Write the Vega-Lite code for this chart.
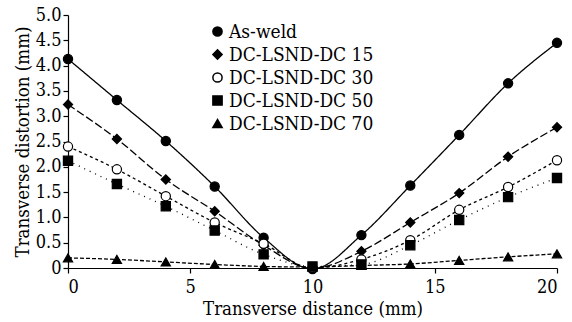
{
  "$schema": "https://vega.github.io/schema/vega-lite/v6.json",
  "width": 489,
  "height": 253,
  "autosize": {"type": "none"},
  "padding": {"left": 68, "top": 15, "right": 15, "bottom": 54},
  "background": "white",
  "config": {
    "view": {"stroke": null},
    "font": "DejaVu Serif Condensed, DejaVu Serif",
    "axis": {"grid": false, "domainColor": "black", "tickColor": "black", "labelColor": "black", "titleColor": "black", "labelFont": "DejaVu Serif Condensed, DejaVu Serif", "titleFont": "DejaVu Serif Condensed, DejaVu Serif", "labelFontSize": 18, "titleFontSize": 18.5, "titleFontWeight": "normal", "domainWidth": 1.2, "tickWidth": 1.2, "tickSize": 5},
    "legend": {"labelFont": "DejaVu Serif Condensed, DejaVu Serif"}
  },
  "data": {
    "values": [
      {"series": "As-weld", "x": 0, "y": 4.13}, {"series": "As-weld", "x": 2, "y": 3.32}, {"series": "As-weld", "x": 4, "y": 2.51}, {"series": "As-weld", "x": 6, "y": 1.61}, {"series": "As-weld", "x": 8, "y": 0.6}, {"series": "As-weld", "x": 10, "y": -0.02}, {"series": "As-weld", "x": 12, "y": 0.65}, {"series": "As-weld", "x": 14, "y": 1.63}, {"series": "As-weld", "x": 16, "y": 2.63}, {"series": "As-weld", "x": 18, "y": 3.65}, {"series": "As-weld", "x": 20, "y": 4.45},
      {"series": "DC-LSND-DC 15", "x": 0, "y": 3.23}, {"series": "DC-LSND-DC 15", "x": 2, "y": 2.55}, {"series": "DC-LSND-DC 15", "x": 4, "y": 1.75}, {"series": "DC-LSND-DC 15", "x": 6, "y": 1.12}, {"series": "DC-LSND-DC 15", "x": 8, "y": 0.45}, {"series": "DC-LSND-DC 15", "x": 10, "y": -0.01}, {"series": "DC-LSND-DC 15", "x": 12, "y": 0.33}, {"series": "DC-LSND-DC 15", "x": 14, "y": 0.9}, {"series": "DC-LSND-DC 15", "x": 16, "y": 1.48}, {"series": "DC-LSND-DC 15", "x": 18, "y": 2.2}, {"series": "DC-LSND-DC 15", "x": 20, "y": 2.78},
      {"series": "DC-LSND-DC 30", "x": 0, "y": 2.4}, {"series": "DC-LSND-DC 30", "x": 2, "y": 1.95}, {"series": "DC-LSND-DC 30", "x": 4, "y": 1.42}, {"series": "DC-LSND-DC 30", "x": 6, "y": 0.9}, {"series": "DC-LSND-DC 30", "x": 8, "y": 0.48}, {"series": "DC-LSND-DC 30", "x": 10, "y": 0.0}, {"series": "DC-LSND-DC 30", "x": 12, "y": 0.17}, {"series": "DC-LSND-DC 30", "x": 14, "y": 0.55}, {"series": "DC-LSND-DC 30", "x": 16, "y": 1.15}, {"series": "DC-LSND-DC 30", "x": 18, "y": 1.6}, {"series": "DC-LSND-DC 30", "x": 20, "y": 2.13},
      {"series": "DC-LSND-DC 50", "x": 0, "y": 2.12}, {"series": "DC-LSND-DC 50", "x": 2, "y": 1.66}, {"series": "DC-LSND-DC 50", "x": 4, "y": 1.22}, {"series": "DC-LSND-DC 50", "x": 6, "y": 0.74}, {"series": "DC-LSND-DC 50", "x": 8, "y": 0.27}, {"series": "DC-LSND-DC 50", "x": 10, "y": 0.03}, {"series": "DC-LSND-DC 50", "x": 12, "y": 0.07}, {"series": "DC-LSND-DC 50", "x": 14, "y": 0.45}, {"series": "DC-LSND-DC 50", "x": 16, "y": 0.95}, {"series": "DC-LSND-DC 50", "x": 18, "y": 1.4}, {"series": "DC-LSND-DC 50", "x": 20, "y": 1.78},
      {"series": "DC-LSND-DC 70", "x": 0, "y": 0.2}, {"series": "DC-LSND-DC 70", "x": 2, "y": 0.17}, {"series": "DC-LSND-DC 70", "x": 4, "y": 0.12}, {"series": "DC-LSND-DC 70", "x": 6, "y": 0.07}, {"series": "DC-LSND-DC 70", "x": 8, "y": 0.03}, {"series": "DC-LSND-DC 70", "x": 10, "y": 0.02}, {"series": "DC-LSND-DC 70", "x": 12, "y": 0.05}, {"series": "DC-LSND-DC 70", "x": 14, "y": 0.08}, {"series": "DC-LSND-DC 70", "x": 16, "y": 0.15}, {"series": "DC-LSND-DC 70", "x": 18, "y": 0.22}, {"series": "DC-LSND-DC 70", "x": 20, "y": 0.28}
    ]
  },
  "encoding": {
    "x": {"field": "x", "type": "quantitative", "scale": {"domain": [0, 20], "nice": false}, "axis": {"values": [0, 5, 10, 15, 20], "title": "Transverse distance (mm)", "labelPadding": 5, "titlePadding": 3}},
    "y": {"field": "y", "type": "quantitative", "scale": {"domain": [0, 5], "nice": false}, "axis": {"values": [0, 0.5, 1, 1.5, 2, 2.5, 3, 3.5, 4, 4.5, 5], "labelExpr": "datum.value == 0 ? '0' : format(datum.value, '.1f')", "title": "Transverse distortion (mm)", "labelPadding": 2, "titlePadding": 3}}
  },
  "layer": [
    {
      "mark": {"type": "line", "interpolate": "monotone", "color": "black", "strokeWidth": 1.3, "clip": false},
      "encoding": {
        "detail": {"field": "series"},
        "strokeDash": {"field": "series", "type": "nominal", "legend": null, "scale": {"domain": ["As-weld", "DC-LSND-DC 15", "DC-LSND-DC 30", "DC-LSND-DC 50", "DC-LSND-DC 70"], "range": [[1, 0], [8, 3], [3, 3], [1, 5], [4, 2]]}}
      }
    },
    {
      "mark": {"type": "point", "filled": true, "stroke": "black", "strokeWidth": 1.2, "opacity": 1, "size": 85, "clip": false},
      "encoding": {
        "shape": {"field": "series", "type": "nominal", "title": null, "scale": {"domain": ["As-weld", "DC-LSND-DC 15", "DC-LSND-DC 30", "DC-LSND-DC 50", "DC-LSND-DC 70"], "range": ["circle", "diamond", "circle", "square", "triangle-up"]}, "legend": {"orient": "none", "legendX": 140, "legendY": 7, "labelFontSize": 19, "labelColor": "black", "symbolSize": 85, "rowPadding": 3, "labelOffset": 2}},
        "fill": {"field": "series", "type": "nominal", "title": null, "scale": {"domain": ["As-weld", "DC-LSND-DC 15", "DC-LSND-DC 30", "DC-LSND-DC 50", "DC-LSND-DC 70"], "range": ["black", "black", "white", "black", "black"]}, "legend": {"orient": "none", "legendX": 140, "legendY": 7, "labelFontSize": 19, "labelColor": "black", "symbolSize": 85, "rowPadding": 3, "labelOffset": 2}}
      }
    }
  ],
  "resolve": {"legend": {"strokeDash": "independent"}}
}
